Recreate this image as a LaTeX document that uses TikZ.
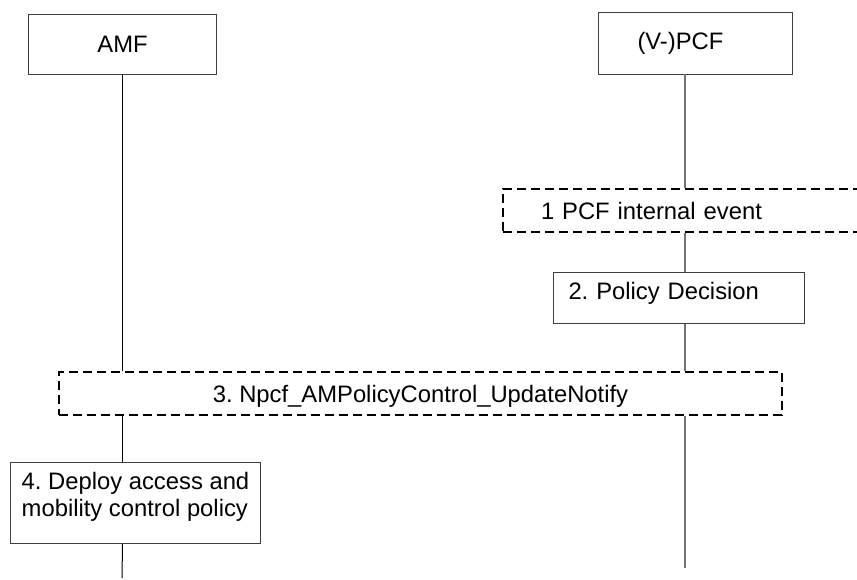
\documentclass[tikz,border=0pt]{standalone}
\usepackage{fontspec}
\setmainfont{Liberation Sans}
\frenchspacing
\usetikzlibrary{positioning}
\tikzset{
  entitybox/.style={
    draw=black!75, line width=0.5pt, anchor=north west,
    font=\fontsize{11.9}{13.5}\selectfont
  },
  stepbox/.style={
    draw=black!75, line width=0.5pt, anchor=north west,
    align=left, inner ysep=0pt, text height=13.25pt,
    font=\fontsize{11.9}{13.5}\selectfont
  },
  eventbox/.style={
    draw=black, line width=1pt, dash pattern=on 4.5pt off 2.5pt,
    anchor=north west, inner ysep=0pt, minimum height=21.5pt,
    text height=15.25pt, text depth=6.25pt,
    font=\fontsize{11.9}{13.5}\selectfont
  },
  lifeline/.style={
    draw=black, line width=0.5pt
  },
  pcfline/.style={
    draw=black!55, line width=0.6pt
  }
}
\begin{document}
\begin{tikzpicture}[x=0.5pt, y=-0.5pt]
  \clip (0,0) rectangle (857,579);
  % entities
  \node[entitybox, minimum width=94pt, minimum height=30pt] (amf) at (28,14) {AMF};
  \node[entitybox, minimum width=97pt, minimum height=31pt, align=left,
        inner xsep=19.5pt, text width=58pt] (pcf) at (598,12) {(V-)PCF};
  % steps
  \node[eventbox, align=left, inner xsep=19pt, text width=146pt] (event) at (502,188) {1 PCF internal event};
  \node[stepbox, inner xsep=7.5pt, text width=110.5pt, text depth=12.25pt] (decision) at (553,272) {2. Policy Decision};
  \node[eventbox, minimum width=361.5pt] (notify) at (58,371) {3. Npcf\_AMPolicyControl\_UpdateNotify};
  \node[stepbox, minimum width=125pt, text height=26.75pt, text depth=13.75pt] (deploy) at (10,462) {4. Deploy access and\\mobility control policy};
  % lifelines
  \coordinate (amfend) at (122,578);
  \coordinate (pcftop) at (685,74);
  \coordinate (pcfend) at (685,568);
  \draw[lifeline] (amf.south) -- (amf.south |- notify.north);
  \draw[lifeline] (notify.south -| amf.south) -- (deploy.north -| amf.south);
  \draw[lifeline] (deploy.south -| amf.south) -- (amfend);
  \draw[pcfline] (pcftop) -- (pcftop |- event.north);
  \draw[pcfline] (event.south -| pcftop) -- (decision.north -| pcftop);
  \draw[pcfline] (decision.south -| pcftop) -- (notify.north -| pcftop);
  \draw[pcfline] (notify.south -| pcftop) -- (pcfend);
\end{tikzpicture}
\end{document}
